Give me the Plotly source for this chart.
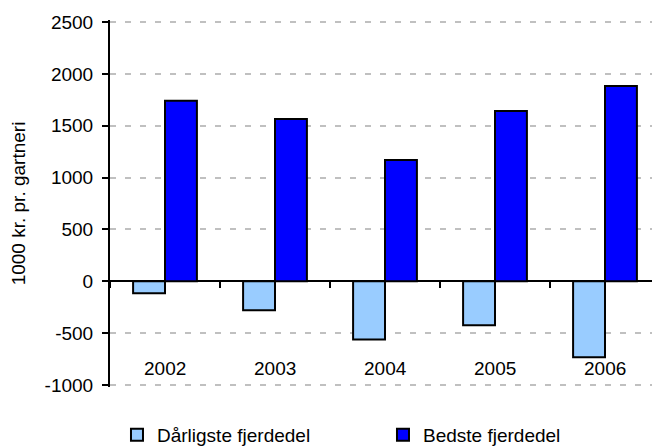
import plotly.graph_objects as go

years = ["2002", "2003", "2004", "2005", "2006"]
worst_quarter = [-116, -280, -563, -424, -733]
best_quarter = [1741, 1565, 1170, 1642, 1883]
series_names = ["Dårligste fjerdedel", "Bedste fjerdedel"]
y_title = "1000 kr. pr. gartneri"
y_ticks = [-1000, -500, 0, 500, 1000, 1500, 2000, 2500]
y_tick_labels = ["-1000", "-500", "0", "500", "1000", "1500", "2000", "2500"]
label_y = -846

FONT = "Arial, Liberation Sans, sans-serif"
FS = 19

fig = go.Figure()
fig.add_trace(go.Bar(x=years, y=worst_quarter, name=series_names[0],
                     marker=dict(color="#99CCFF", line=dict(color="black", width=2))))
fig.add_trace(go.Bar(x=years, y=best_quarter, name=series_names[1],
                     marker=dict(color="#0000FF", line=dict(color="black", width=2))))

for i, yr in enumerate(years):
    fig.add_annotation(x=i, y=label_y, text=yr, showarrow=False,
                       xref="x", yref="y", yanchor="middle",
                       font=dict(family=FONT, size=FS, color="black"))

# small padding so the end gridlines are drawn
pad = 20
y_min, y_max = y_ticks[0] - pad, y_ticks[-1] + pad
zero_pos = (0 - y_min) / (y_max - y_min)

fig.update_layout(
    width=652, height=440,
    margin=dict(l=102, r=0, t=12, b=61, autoexpand=False),
    paper_bgcolor="white", plot_bgcolor="white",
    barmode="group", bargap=0.42, bargroupgap=0,
    font=dict(family=FONT, size=FS, color="black"),
    showlegend=True,
    legend=dict(orientation="h", x=0.0127, y=-0.1308, xanchor="left", yanchor="middle",
                entrywidth=221, entrywidthmode="pixels",
                font=dict(family=FONT, size=FS, color="black"),
                bgcolor="rgba(0,0,0,0)"),
    xaxis=dict(type="category", range=[-0.5, 4.5], anchor="free", position=zero_pos,
               showline=False,
               ticks="outside", tickson="boundaries", ticklen=6, tickwidth=2, tickcolor="black",
               showticklabels=False, showgrid=False, zeroline=False),
    yaxis=dict(range=[y_min, y_max], tickmode="array", tickvals=y_ticks, ticktext=y_tick_labels,
               showline=True, linecolor="black", linewidth=2,
               ticks="outside", ticklen=6, tickwidth=2, tickcolor="black",
               ticklabelstandoff=5,
               showgrid=True, gridcolor="#C0C0C0", gridwidth=2, griddash="6px,9px",
               zeroline=True, zerolinecolor="black", zerolinewidth=2,
               title=dict(text=y_title, font=dict(family=FONT, size=FS, color="black"), standoff=28),
               tickfont=dict(family=FONT, size=FS, color="black")),
)

fig.write_html("out.html")
